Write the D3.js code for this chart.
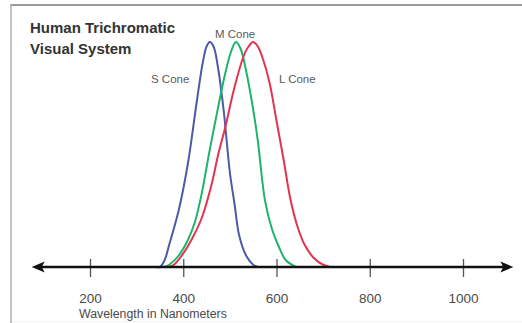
<!DOCTYPE html>
<html>
<head>
<meta charset="utf-8">
<script src="https://cdn.jsdelivr.net/npm/d3@7"></script>
<style>
  html, body { margin: 0; padding: 0; background: #fff; }
  svg { display: block; }
  text { font-family: "Liberation Sans", Arial, sans-serif; }
</style>
</head>
<body>
<script>
// Relative spectral sensitivity of the three cone types (wavelength in nm, peak = 1)
const sConeNm  = [340, 350, 360, 370, 390, 410, 430, 442, 450, 457, 465, 475, 487, 500, 510, 520, 535, 550, 560];
const sConeVal = [0, 0, 0.03, 0.10, 0.25, 0.46, 0.75, 0.91, 0.98, 1.0, 0.98, 0.88, 0.69, 0.42, 0.28, 0.14, 0.05, 0.01, 0];

const mConeNm  = [360, 370, 390, 410, 425, 440, 455, 470, 490, 503, 513, 523, 535, 550, 560, 575, 590, 605, 620, 642];
const mConeVal = [0, 0.01, 0.05, 0.12, 0.20, 0.33, 0.50, 0.66, 0.86, 0.96, 1.0, 0.97, 0.87, 0.70, 0.56, 0.30, 0.17, 0.09, 0.03, 0];

const lConeNm  = [370, 380, 400, 420, 440, 460, 475, 490, 510, 530, 540, 550, 560, 570, 585, 600, 615, 630, 645, 660, 680, 700, 715];
const lConeVal = [0, 0.01, 0.06, 0.13, 0.22, 0.36, 0.50, 0.62, 0.80, 0.94, 0.98, 1.0, 0.98, 0.93, 0.82, 0.65, 0.48, 0.30, 0.18, 0.10, 0.04, 0.01, 0];

const coneNames  = ["S Cone", "M Cone", "L Cone"];
const coneColors = ["#4b5ba6", "#1fb36b", "#e2344f"];
const tickValues = [200, 400, 600, 800, 1000];
const axisExtent = [75, 1108];   // wavelength span of the arrowed axis line
const titleLines = ["Human Trichromatic", "Visual System"];
const axisTitle  = "Wavelength in Nanometers";

const W = 522, H = 323;
const svg = d3.select("body").append("svg").attr("width", W).attr("height", H);

// frame
svg.append("line").attr("x1", 10).attr("x2", W).attr("y1", 5).attr("y2", 5)
  .attr("stroke", "#9a9a9a").attr("stroke-width", 2);
svg.append("line").attr("x1", 11).attr("x2", 11).attr("y1", 4).attr("y2", H)
  .attr("stroke", "#b0b0b0").attr("stroke-width", 1.5);
svg.append("line").attr("x1", 12).attr("x2", W).attr("y1", 321.5).attr("y2", 321.5)
  .attr("stroke", "#f2f2f2").attr("stroke-width", 1);

const x = d3.scaleLinear().domain([200, 1000]).range([90, 463]);
const y = d3.scaleLinear().domain([0, 1]).range([267, 42]);
const axisY = y(0);

// cone sensitivity curves
const cones = [
  d3.zip(sConeNm, sConeVal),
  d3.zip(mConeNm, mConeVal),
  d3.zip(lConeNm, lConeVal)
];
const line = d3.line()
  .x(d => x(d[0]))
  .y(d => y(d[1]))
  .curve(d3.curveCatmullRom.alpha(0.5));

svg.append("g").selectAll("path")
  .data(cones)
  .join("path")
  .attr("d", line)
  .attr("fill", "none")
  .attr("stroke", (d, i) => coneColors[i])
  .attr("stroke-width", 2)
  .attr("stroke-linejoin", "round");

// axis with ticks crossing the baseline
const axis = d3.axisBottom(x).tickValues(tickValues).tickFormat(d3.format("d")).tickSize(10).tickPadding(0);
const gAxis = svg.append("g").attr("transform", `translate(0,${axisY})`).call(axis);
gAxis.select(".domain").remove();
gAxis.selectAll(".tick line")
  .attr("y1", -8).attr("y2", 10)
  .attr("stroke", "#555").attr("stroke-width", 1.3);
gAxis.selectAll(".tick text")
  .attr("y", 36).attr("dy", 0)
  .attr("fill", "#4a4a4a")
  .style("font-size", "13.5px")
  .style("font-family", "'Liberation Sans', Arial, sans-serif");

// arrowed baseline
const xa0 = x(axisExtent[0]), xa1 = x(axisExtent[1]);
svg.append("line")
  .attr("x1", xa0 + 6).attr("x2", xa1 - 6)
  .attr("y1", axisY).attr("y2", axisY)
  .attr("stroke", "#111").attr("stroke-width", 2.6);
svg.append("path")
  .attr("d", `M${xa0},${axisY} L${xa0 + 13},${axisY - 5.5} L${xa0 + 10},${axisY} L${xa0 + 13},${axisY + 5.5} Z`)
  .attr("fill", "#111");
svg.append("path")
  .attr("d", `M${xa1},${axisY} L${xa1 - 13},${axisY - 5.5} L${xa1 - 10},${axisY} L${xa1 - 13},${axisY + 5.5} Z`)
  .attr("fill", "#111");

// axis title
svg.append("text")
  .attr("x", 79).attr("y", 318)
  .attr("fill", "#4a4a4a")
  .style("font-size", "12.3px")
  .text(axisTitle);

// chart title
svg.append("text")
  .attr("x", 30).attr("y", 33)
  .attr("fill", "#333")
  .style("font-size", "15px")
  .style("font-weight", "bold")
  .selectAll("tspan")
  .data(titleLines)
  .join("tspan")
  .attr("x", 30)
  .attr("dy", (d, i) => i === 0 ? 0 : 21)
  .text(d => d);

// cone labels
const labelPos = [
  { x: 151, y: 83 },
  { x: 215, y: 38 },
  { x: 279, y: 83 }
];
svg.append("g").selectAll("text")
  .data(coneNames)
  .join("text")
  .attr("x", (d, i) => labelPos[i].x)
  .attr("y", (d, i) => labelPos[i].y)
  .attr("fill", "#5a5a5a")
  .style("font-size", "11.5px")
  .text(d => d);
</script>
</body>
</html>
